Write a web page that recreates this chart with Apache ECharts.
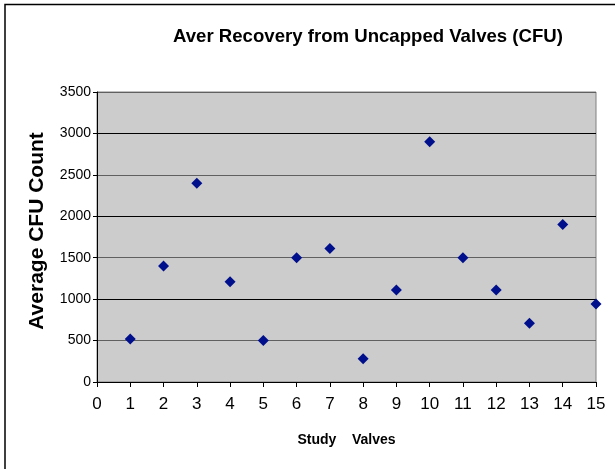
<!DOCTYPE html>
<html>
<head>
<meta charset="utf-8">
<script src="https://cdn.jsdelivr.net/npm/echarts@6/dist/echarts.min.js"></script>
<style>
html,body{margin:0;padding:0;background:#fff;overflow:hidden;}
#chart{width:615px;height:469px;}
</style>
</head>
<body>
<div id="chart"></div>
<script>
var valves = [1, 2, 3, 4, 5, 6, 7, 8, 9, 10, 11, 12, 13, 14, 15];
var cfuCounts = [520, 1400, 2400, 1210, 500, 1500, 1610, 280, 1110, 2900, 1500, 1110, 710, 1900, 940];
var titleText = 'Aver Recovery from Uncapped Valves (CFU)';
var xName = 'Study    Valves';
var yName = 'Average CFU Count';

var points = valves.map(function (v, i) { return [v, cfuCounts[i]]; });

var chart = echarts.init(document.getElementById('chart'));
chart.setOption({
  animation: false,
  backgroundColor: '#ffffff',
  title: {
    text: titleText,
    left: 168,
    top: 22,
    textStyle: { fontFamily: 'Liberation Sans, Arial, sans-serif', fontWeight: 'bold', fontSize: 18.6, color: '#000' }
  },
  graphic: [{
    type: 'rect',
    shape: { x: 5, y: 4.5, width: 640, height: 500 },
    style: { fill: 'none', stroke: '#000', lineWidth: 1.5 },
    silent: true
  }],
  grid: {
    left: 97, right: 19, top: 92, bottom: 87,
    show: true, backgroundColor: '#cccccc', borderColor: '#808080', borderWidth: 1
  },
  xAxis: {
    type: 'value', min: 0, max: 15, interval: 1,
    name: xName, nameLocation: 'middle', nameGap: 51,
    nameTextStyle: { fontFamily: 'Liberation Sans, Arial, sans-serif', fontWeight: 'bold', fontSize: 14, color: '#000' },
    axisLine: { show: true, onZero: false, lineStyle: { color: '#000', width: 1 } },
    axisTick: { show: true, length: 5, lineStyle: { color: '#000' } },
    axisLabel: { margin: 14, fontFamily: 'Liberation Sans, Arial, sans-serif', fontSize: 17, color: '#000' },
    splitLine: { show: false }
  },
  yAxis: {
    type: 'value', min: 0, max: 3500, interval: 500,
    name: yName, nameLocation: 'middle', nameGap: 49, nameRotate: 90,
    nameTextStyle: { fontFamily: 'Liberation Sans, Arial, sans-serif', fontWeight: 'bold', fontSize: 21, color: '#000', padding: [0, 0, 0, 12] },
    axisLine: { show: true, onZero: false, lineStyle: { color: '#000', width: 1 } },
    axisTick: { show: true, length: 4, lineStyle: { color: '#000' } },
    axisLabel: {
      margin: 6, fontFamily: 'Liberation Sans, Arial, sans-serif', fontSize: 14, color: '#000',
      formatter: function (v) { return String(v); }
    },
    splitLine: { show: true, lineStyle: { color: ['#000', '#606060'], width: 1 } }
  },
  series: [{
    type: 'scatter',
    data: points,
    symbol: 'diamond',
    symbolSize: 11,
    itemStyle: { color: '#00108c', opacity: 1 },
    clip: false
  }]
});
</script>
</body>
</html>
